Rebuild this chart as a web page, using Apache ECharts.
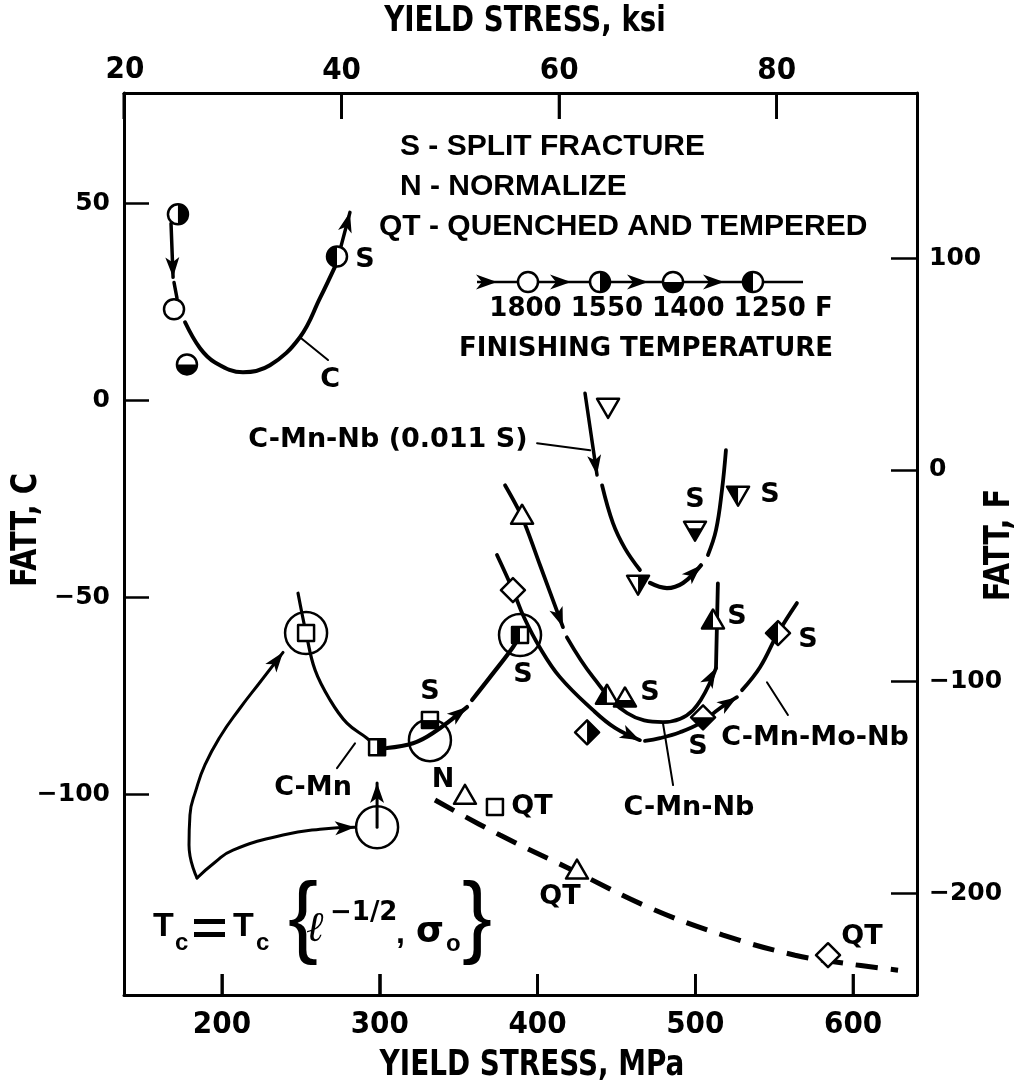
<!DOCTYPE html>
<html><head><meta charset="utf-8">
<script src="https://cdn.jsdelivr.net/npm/echarts@6/dist/echarts.min.js"></script>
<style>html,body{margin:0;padding:0;background:#fff}#chart{width:1019px;height:1090px}</style>
</head><body><div id="chart"></div>
<script>
function showErr(m) {
  const d = document.createElement('div');
  d.style.cssText = 'position:absolute;left:2px;top:2px;font:11px sans-serif;color:#c00;background:#fff;max-width:600px';
  d.textContent = 'ERR: ' + m;
  document.body.appendChild(d);
}
window.addEventListener('error', e => showErr(e.message));

// ---------- axis ticks ----------
const mpaTicks = [200, 300, 400, 500, 600];
const ksiTicks = [20, 40, 60, 80];
const fattCTicks = [-100, -50, 0, 50];
const fattFTicks = [-200, -100, 0, 100];

// ---------- curves (x: yield stress MPa, y: FATT °C) ----------
const cCurveX = [176.6, 186.1, 195.6, 213.3, 230.4, 249.4, 262.1, 272.9];
const cCurveY = [19.8, 13.2, 9.6, 7.1, 8.9, 16.0, 25.9, 35.0];
const cArrowTopX = [167.7, 169.0];
const cArrowTopY = [44.9, 31.2];
const cTailX = [169.6, 171.5];
const cTailY = [29.9, 25.9];
const cArrowEndX = [274.8, 281.1];
const cArrowEndY = [38.1, 47.7];

const cmnAX = [248.2, 253.3, 259.0, 268.5, 279.2, 291.9, 298.3];
const cmnAY = [-49.0, -59.1, -68.5, -76.1, -82.0, -85.8, -88.1];
const cmnBX = [304.6, 321.1, 333.7, 355.3];
const cmnBY = [-88.3, -87.1, -84.5, -77.9];
const cmnCX = [358.5, 369.9, 384.4, 388.9];
const cmnCY = [-76.1, -70.3, -62.7, -59.6];

const nbsShaftX = [430.1, 437.7];
const nbsShaftY = [1.8, -19.0];
const nbsAX = [440.9, 447.8, 455.4, 464.9];
const nbsAY = [-21.6, -31.2, -37.6, -43.1];
const nbsBX = [471.3, 482.0, 492.2, 503.6];
const nbsBY = [-46.4, -47.7, -46.4, -41.9];
const nbsCX = [508.0, 513.1, 516.9, 519.4];
const nbsCY = [-39.3, -33.0, -22.8, -12.7];

const nbAX = [379.4, 390.2, 401.6, 416.1];
const nbAY = [-21.6, -29.7, -41.9, -57.6];
const nbBX = [418.6, 435.2, 456.7, 479.5, 498.5, 513.1];
const nbBY = [-60.2, -70.3, -79.4, -81.7, -78.7, -68.0];
const nbCX = [513.1, 514.3];
const nbCY = [-68.0, -46.5];

const moAX = [374.3, 384.4, 391.4, 401.6, 414.2, 435.2, 449.1, 464.9];
const moAY = [-39.3, -48.2, -55.1, -62.9, -70.3, -78.7, -83.2, -86.3];
const moBX = [468.1, 477.6, 490.3, 503.0, 515.6, 526.4];
const moBY = [-86.5, -85.8, -84.3, -82.0, -78.2, -75.4];
const moCX = [529.6, 541.0, 552.4, 564.4];
const moCY = [-73.6, -67.8, -59.1, -51.5];

const qtDashX = [335.0, 376.2, 420.6, 471.3, 517.6, 563.2, 593.6, 628.5];
const qtDashY = [-101.5, -110.4, -119.0, -128.9, -135.8, -140.9, -142.9, -144.7];

const bigArrowAX = [184.2, 179.1, 179.7, 183.5, 189.2, 198.7, 211.4, 224.1, 238.7];
const bigArrowAY = [-121.3, -112.9, -105.3, -99.0, -92.6, -85.5, -78.2, -71.6, -64.0];
const bigArrowBX = [184.2, 195.6, 207.0, 238.7, 262.1, 284.3];
const bigArrowBY = [-121.3, -117.3, -114.2, -110.4, -108.9, -108.4];
const upArrowX = [298.3, 298.3];
const upArrowY = [-108.4, -97.2];

// leader lines
const leadCX = [249.4, 267.2], leadCY = [16.0, 10.2];
const leadCMnX = [272.9, 284.3], leadCMnY = [-93.4, -87.1];
const leadNbSX = [399.7, 433.3], leadNbSY = [-10.9, -12.7];
const leadNbX = [479.5, 485.9], leadNbY = [-82.0, -97.7];
const leadMoX = [545.4, 558.7], leadMoY = [-71.6, -79.9];

// ---------- data markers ----------
const markerX = [172.1, 169.6, 177.8, 272.9, 253.3, 298.3, 331.8, 388.9, 373.0, 390.2, 444.0, 455.4, 511.2, 354.0, 425.0, 444.7, 463.7, 499.8, 527.1, 384.4, 431.4, 504.9, 552.4, 584.1];
const markerY = [47.2, 23.1, 9.1, 36.5, -59.1, -88.1, -81.2, -59.6, -103.3, -29.7, -75.4, -76.1, -56.3, -100.8, -119.8, -1.3, -46.2, -32.5, -23.6, -48.2, -84.3, -80.5, -59.1, -140.9];
const markerShape = ['circle','circle','circle','circle','square','square','square','square','square','tri','tri','tri','tri','tri','tri','dtri','dtri','dtri','dtri','diamond','diamond','diamond','diamond','diamond'];
const markerFill = ['right','open','bottom','left','open','right','bottom','left','open','open','left','bottom','left','open','open','open','right','bottom','left','open','right','bottom','left','open'];

const bigCircleX = [253.3, 388.9, 331.8, 298.3];
const bigCircleY = [-59.1, -59.6, -86.3, -108.4];

// ---------- in-plot labels ----------
const labelX = [268.5, 290.7, 305.2, 499.8, 547.3, 471.3, 526.4, 501.7, 571.4, 331.8, 390.8, 257.7, 340.1, 396.5, 414.2, 605.6, 496.0, 575.9];
const labelY = [5.1, 35.5, -10.0, -25.4, -24.1, -74.4, -55.1, -88.1, -60.9, -74.1, -69.8, -98.5, -96.4, -103.3, -126.1, -136.3, -103.6, -85.8];
const labelText = ['C','S','C-Mn-Nb (0.011 S)','S','S','S','S','S','S','S','S','C-Mn','N','QT','QT','QT','C-Mn-Nb','C-Mn-Mo-Nb'];

// legend (finishing temperature) items
const legendFill = ['open','right','bottom','left'];
const legendTemps = ['1800','1550','1400','1250'];

// ---------- helpers ----------
const MPA_PER_KSI = 6.894757;
const MPA_MIN = 137.9, MPA_MAX = 640.5;
const C_MIN = -151, C_MAX = 78;
const GRID = { left: 124, top: 93, width: 793, height: 902 };
const WIDE = '"DejaVu Sans"';
const NARROW = '"DejaVu Sans Condensed", "Liberation Sans Narrow", sans-serif';
const HELV = '"Liberation Sans", Arial, sans-serif';

function clipPoly(pts, f) {
  const out = [];
  for (let i = 0; i < pts.length; i++) {
    const a = pts[i], b = pts[(i + 1) % pts.length];
    const fa = f(a), fb = f(b);
    if (fa >= 0) out.push(a);
    if ((fa >= 0) !== (fb >= 0)) {
      const t = fa / (fa - fb);
      out.push([a[0] + (b[0] - a[0]) * t, a[1] + (b[1] - a[1]) * t]);
    }
  }
  return out;
}
function shapePts(shape, cx, cy) {
  if (shape === 'square') { const s = 8; return [[cx - s, cy - s], [cx + s, cy - s], [cx + s, cy + s], [cx - s, cy + s]]; }
  if (shape === 'tri') return [[cx, cy - 12.5], [cx + 11, cy + 6.5], [cx - 11, cy + 6.5]];
  if (shape === 'dtri') return [[cx - 11, cy - 6.5], [cx + 11, cy - 6.5], [cx, cy + 12.5]];
  const d = 12; return [[cx, cy - d], [cx + d, cy], [cx, cy + d], [cx - d, cy]];
}
function drawMarker(shape, fill, cx, cy) {
  const ch = [];
  const lw = 2.5;
  if (shape === 'circle') {
    const R = 10;
    ch.push({ type: 'circle', shape: { cx, cy, r: R }, style: { fill: '#fff' } });
    if (fill !== 'open') {
      const a = fill === 'right' ? [-Math.PI / 2, Math.PI / 2] : fill === 'bottom' ? [0, Math.PI] : [Math.PI / 2, 3 * Math.PI / 2];
      ch.push({ type: 'sector', shape: { cx, cy, r: R, r0: 0, startAngle: a[0], endAngle: a[1], clockwise: true }, style: { fill: '#000' } });
    }
    ch.push({ type: 'circle', shape: { cx, cy, r: R }, style: { fill: 'none', stroke: '#000', lineWidth: lw } });
  } else {
    const pts = shapePts(shape, cx, cy);
    ch.push({ type: 'polygon', shape: { points: pts }, style: { fill: '#fff' } });
    if (fill !== 'open') {
      const f = fill === 'right' ? p => p[0] - cx : fill === 'left' ? p => cx - p[0] : p => p[1] - cy;
      ch.push({ type: 'polygon', shape: { points: clipPoly(pts, f) }, style: { fill: '#000' } });
    }
    ch.push({ type: 'polygon', shape: { points: pts }, style: { fill: 'none', stroke: '#000', lineWidth: lw, lineJoin: 'round' } });
  }
  return ch;
}
function arrowHeadPts(tip, from, len, hw, notch) {
  const dx = tip[0] - from[0], dy = tip[1] - from[1];
  const L = Math.hypot(dx, dy) || 1; const ux = dx / L, uy = dy / L; const nx = -uy, ny = ux;
  return [tip,
    [tip[0] - ux * len + nx * hw, tip[1] - uy * len + ny * hw],
    [tip[0] - ux * (len - notch), tip[1] - uy * (len - notch)],
    [tip[0] - ux * len - nx * hw, tip[1] - uy * len - ny * hw]];
}
function tickRect(x, y, len, dir) {
  const y2 = y + dir * len;
  return [[x - 1.3, y], [x + 1.3, y], [x + 1.3, y2], [x - 1.3, y2]];
}
function zip(xs, ys) { return xs.map((x, i) => [x, ys[i]]); }
function seg(xs, ys, width, smooth, dash) {
  return { type: 'line', data: zip(xs, ys), smooth: smooth, symbol: 'none', showSymbol: false, silent: true, z: 2,
    lineStyle: { color: '#000', width: width, type: dash || 'solid', cap: dash ? 'butt' : 'round' } };
}
function txt(text, x, y, font, align, extra) {
  return Object.assign({ type: 'text', x: x, y: y, silent: true,
    style: { text: text, font: font, fill: '#000', textAlign: align || 'center', textVerticalAlign: 'middle' } }, extra || {});
}

// arrowed segments (arrowhead at last point)
const arrowSegs = [[cArrowTopX, cArrowTopY], [cArrowEndX, cArrowEndY], [cmnBX, cmnBY], [nbsShaftX, nbsShaftY], [nbsBX, nbsBY],
  [nbAX, nbAY], [nbBX, nbBY], [moAX, moAY], [moBX, moBY], [bigArrowAX, bigArrowAY], [bigArrowBX, bigArrowBY], [upArrowX, upArrowY]];
const arrowData = arrowSegs.map(s => { const n = s[0].length; return [s[0][n - 1], s[1][n - 1], s[0][n - 2], s[1][n - 2]]; });

// x tick positions for both horizontal axes, in MPa on the bottom scale; third value: 1 = bottom, 0 = top
const xTickData = mpaTicks.map(v => [v, C_MIN, 1]).concat(ksiTicks.map(k => [k * MPA_PER_KSI, C_MAX, 0]));

const axisLineStyle = { color: '#000', width: 3 };
const tickLine = { color: '#000', width: 2.5 };

// ---------- graphic (legend, notes, formula, axis names) ----------
const graphic = [];
// x-tick bars (same linear mapping as the bottom axis), placed first
xTickData.forEach(d => {
  const px = GRID.left + (d[0] - MPA_MIN) / (MPA_MAX - MPA_MIN) * GRID.width;
  const py = d[2] ? GRID.top + GRID.height : GRID.top;
  graphic.push({ type: 'rect', silent: true, z: 50, shape: { x: px - 1.3, y: d[2] ? py - 21 : py, width: 2.6, height: d[2] ? 21 : 26 }, style: { fill: '#000' } });
});
graphic.push(txt('YIELD STRESS, ksi', 525, 22, 'bold 36px ' + NARROW, 'center', { scaleX: 0.855 }));
graphic.push(txt('YIELD STRESS, MPa', 532, 1066, 'bold 36px ' + NARROW, 'center', { scaleX: 0.86 }));
graphic.push(txt('FATT, C', 27, 530, 'bold 35px ' + NARROW, 'center', { rotation: Math.PI / 2, scaleX: 0.92 }));
graphic.push(txt('FATT, F', 1000, 545, 'bold 35px ' + NARROW, 'center', { rotation: Math.PI / 2, scaleX: 0.92 }));
graphic.push(txt(String(ksiTicks[0]), 125, 70, 'bold 31px ' + NARROW, 'center'));
graphic.push(txt('S - SPLIT FRACTURE', 400, 147, 'bold 30px ' + HELV, 'left'));
graphic.push(txt('N - NORMALIZE', 400, 187, 'bold 30px ' + HELV, 'left'));
graphic.push(txt('QT - QUENCHED AND TEMPERED', 379, 227, 'bold 30px ' + HELV, 'left'));
// legend row
graphic.push({ type: 'line', silent: true, shape: { x1: 477, y1: 282, x2: 803, y2: 282 }, style: { stroke: '#000', lineWidth: 2.5 } });
[497, 571, 648, 724].forEach(t => graphic.push({ type: 'polygon', silent: true, shape: { points: arrowHeadPts([t, 282], [t - 10, 282], 21, 7.5, 6) }, style: { fill: '#000' } }));
[528, 600, 673, 753].forEach((cx, i) => graphic.push({ type: 'group', silent: true, children: drawMarker('circle', legendFill[i], cx, 282) }));
graphic.push(txt(legendTemps.join(' ') + ' F', 661, 309, 'bold 26px ' + WIDE));
graphic.push(txt('FINISHING TEMPERATURE', 646, 349, 'bold 26px ' + WIDE));
// formula
graphic.push(txt('T', 153, 927, 'bold 34px ' + HELV, 'left'));
graphic.push(txt('c', 175, 943, 'bold 24px ' + HELV, 'left'));
graphic.push({ type: 'rect', silent: true, shape: { x: 194, y: 919, width: 31, height: 5 }, style: { fill: '#000' } });
graphic.push({ type: 'rect', silent: true, shape: { x: 194, y: 932, width: 31, height: 5 }, style: { fill: '#000' } });
graphic.push(txt('T', 233, 927, 'bold 34px ' + HELV, 'left'));
graphic.push(txt('c', 256, 943, 'bold 24px ' + HELV, 'left'));
graphic.push(txt('{', 288, 921, 'normal 90px ' + HELV, 'left'));
graphic.push(txt('\u2113', 306, 930, 'italic 42px "DejaVu Serif"', 'left'));
graphic.push(txt('\u22121/2', 330, 913, 'bold 26px ' + WIDE, 'left'));
graphic.push(txt(',', 396, 934, 'bold 32px ' + HELV, 'left'));
graphic.push(txt('\u03c3', 416, 933, 'bold 36px ' + WIDE, 'left'));
graphic.push(txt('o', 446, 944, 'bold 24px ' + HELV, 'left'));
graphic.push(txt('}', 462, 921, 'normal 90px ' + HELV, 'left'));

const series = [
  // inside tick bars for the bottom (MPa) and top (ksi) axes, placed via the bottom axis scale
  { type: 'custom', silent: true, z: 7, data: xTickData, encode: { x: 0, y: 1 },
    renderItem: (params, api) => {
      const p = api.coord([api.value(0), api.value(1)]);
      const bottom = api.value(2) === 1;
      return { type: 'polygon', shape: { points: tickRect(p[0], p[1], bottom ? 21 : 26, bottom ? -1 : 1) }, style: { fill: '#000' } };
    } },
  seg(cCurveX, cCurveY, 4, 0.4),
  seg(cArrowTopX, cArrowTopY, 3.5, false),
  seg(cTailX, cTailY, 3.5, false),
  seg(cArrowEndX, cArrowEndY, 3.5, false),
  seg(cmnAX, cmnAY, 3.2, 0.4),
  seg(cmnBX, cmnBY, 4.2, 0.4),
  seg(cmnCX, cmnCY, 4.2, 0.4),
  seg(nbsShaftX, nbsShaftY, 3.5, false),
  seg(nbsAX, nbsAY, 3.8, 0.4),
  seg(nbsBX, nbsBY, 4.2, 0.4),
  seg(nbsCX, nbsCY, 3.8, 0.4),
  seg(nbAX, nbAY, 3.8, 0.3),
  seg(nbBX, nbBY, 3.8, 0.4),
  seg(nbCX, nbCY, 3.8, false),
  seg(moAX, moAY, 3.8, 0.4),
  seg(moBX, moBY, 3.8, 0.4),
  seg(moCX, moCY, 3.8, 0.4),
  seg(qtDashX, qtDashY, 5, 0.4, [22, 13]),
  seg(bigArrowAX, bigArrowAY, 3, 0.5),
  seg(bigArrowBX, bigArrowBY, 3, 0.5),
  seg(upArrowX, upArrowY, 3, false),
  seg(leadCX, leadCY, 2, false),
  seg(leadCMnX, leadCMnY, 2, false),
  seg(leadNbSX, leadNbSY, 2, false),
  seg(leadNbX, leadNbY, 2, false),
  seg(leadMoX, leadMoY, 2, false),
  { type: 'custom', silent: true, z: 3, data: arrowData, encode: { x: 0, y: 1 },
    renderItem: (params, api) => {
      const tip = api.coord([api.value(0), api.value(1)]);
      const from = api.coord([api.value(2), api.value(3)]);
      return { type: 'polygon', shape: { points: arrowHeadPts(tip, from, 20, 7, 5) }, style: { fill: '#000' } };
    } },
  { type: 'custom', silent: true, z: 4, data: zip(bigCircleX, bigCircleY),
    renderItem: (params, api) => {
      const p = api.coord([api.value(0), api.value(1)]);
      return { type: 'circle', shape: { cx: p[0], cy: p[1], r: 21 }, style: { fill: 'none', stroke: '#000', lineWidth: 2.5 } };
    } },
  { type: 'custom', silent: true, z: 5, data: zip(markerX, markerY),
    renderItem: (params, api) => {
      const i = params.dataIndex;
      const p = api.coord([api.value(0), api.value(1)]);
      return { type: 'group', children: drawMarker(markerShape[i], markerFill[i], p[0], p[1]) };
    } },
  { type: 'custom', silent: true, z: 6, data: zip(labelX, labelY),
    renderItem: (params, api) => {
      const p = api.coord([api.value(0), api.value(1)]);
      return txt(labelText[params.dataIndex], p[0], p[1], 'bold 27px ' + WIDE);
    } }
];

const option = {
  animation: false,
  backgroundColor: '#fff',
  grid: Object.assign({ containLabel: false }, GRID),
  xAxis: [
    { type: 'value', position: 'bottom', min: MPA_MIN, max: MPA_MAX,
      axisLine: { onZero: false, lineStyle: axisLineStyle },
      axisTick: { inside: true, length: 21, customValues: mpaTicks, lineStyle: tickLine },
      axisLabel: { customValues: mpaTicks, margin: 14, color: '#000', fontFamily: NARROW, fontWeight: 'bold', fontSize: 31 },
      splitLine: { show: false } },
    { type: 'value', position: 'top', min: MPA_MIN / MPA_PER_KSI, max: MPA_MAX / MPA_PER_KSI,
      axisLine: { onZero: false, lineStyle: axisLineStyle },
      axisTick: { inside: true, length: 26, customValues: ksiTicks, lineStyle: tickLine },
      axisLabel: { customValues: ksiTicks, margin: 7, color: '#000', fontFamily: NARROW, fontWeight: 'bold', fontSize: 31 },
      splitLine: { show: false } }
  ],
  yAxis: [
    { type: 'value', position: 'left', min: C_MIN, max: C_MAX,
      axisLine: { onZero: false, lineStyle: axisLineStyle },
      axisTick: { inside: true, length: 25, customValues: fattCTicks, lineStyle: tickLine },
      axisLabel: { customValues: fattCTicks, margin: 14, color: '#000', fontFamily: WIDE, fontWeight: 'bold', fontSize: 25,
        formatter: v => v < 0 ? '\u2212' + Math.abs(v) : String(v) },
      splitLine: { show: false } },
    { type: 'value', position: 'right', min: -248, max: 178,
      axisLine: { onZero: false, lineStyle: axisLineStyle },
      axisTick: { inside: true, length: 26, customValues: fattFTicks, lineStyle: tickLine },
      axisLabel: { customValues: fattFTicks, margin: 12, color: '#000', fontFamily: WIDE, fontWeight: 'bold', fontSize: 25,
        formatter: v => v < 0 ? '\u2212' + Math.abs(v) : String(v) },
      splitLine: { show: false } }
  ],
  graphic: graphic,
  series: series
};
try {
  const chart = echarts.init(document.getElementById('chart'), null, { renderer: 'canvas' });
  chart.setOption(option);
} catch (e) { showErr(e && e.message ? e.message : String(e)); }
</script>
</body></html>
